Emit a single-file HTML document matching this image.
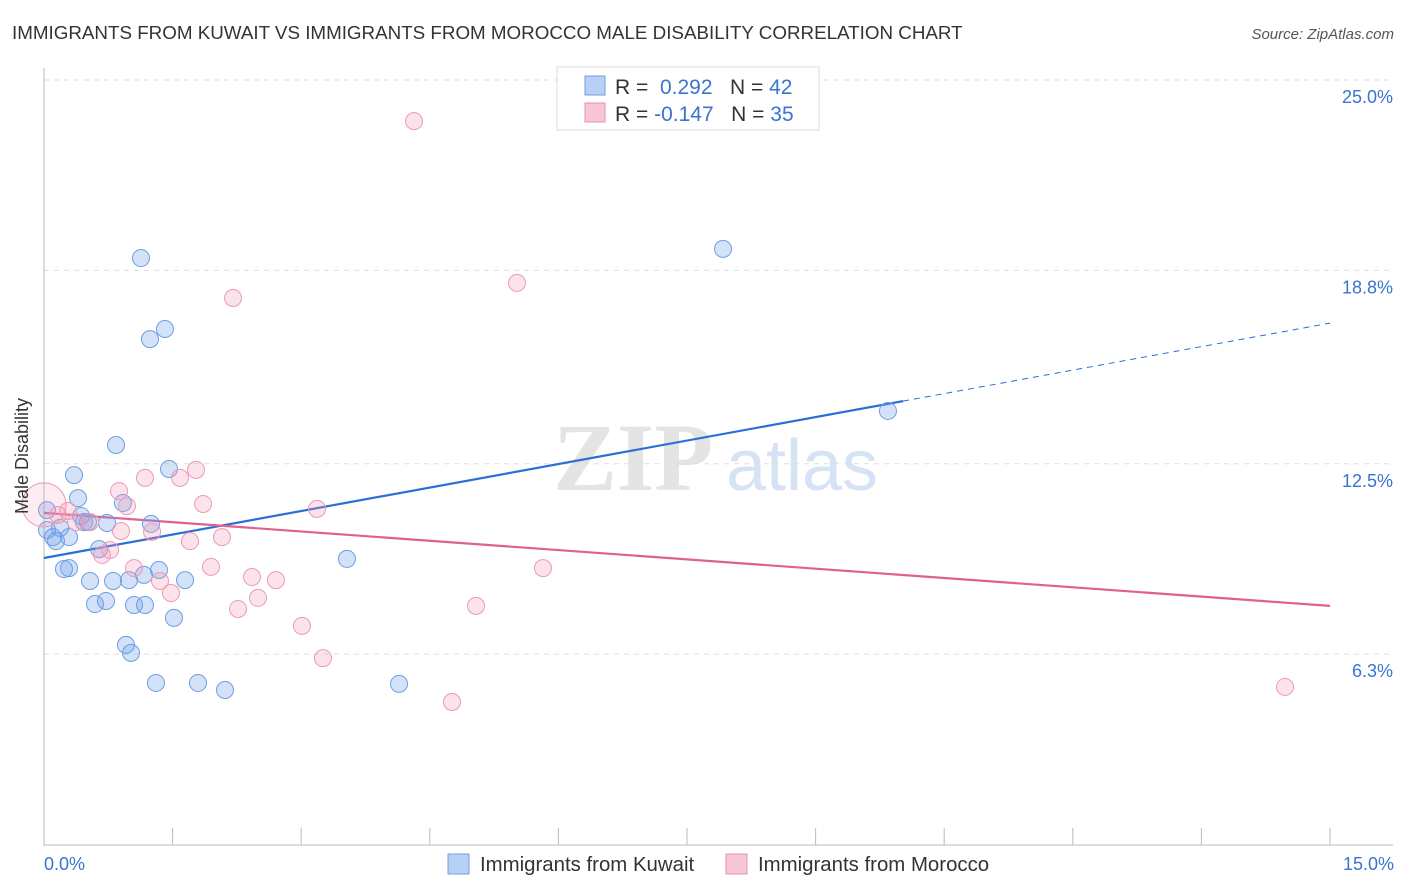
<!DOCTYPE html>
<html><head><meta charset="utf-8"><style>
body{margin:0;background:#fff;font-family:"Liberation Sans",sans-serif;}
svg{display:block}
</style></head><body>
<svg width="1406" height="892" id="chart">
<text x="12" y="39" font-size="18.8" fill="#333">IMMIGRANTS FROM KUWAIT VS IMMIGRANTS FROM MOROCCO MALE DISABILITY CORRELATION CHART</text>
<text x="1394" y="39" font-size="15" fill="#555" font-style="italic" text-anchor="end">Source: ZipAtlas.com</text>
<text x="633" y="490" font-size="96" fill="#e4e4e4" font-family="Liberation Serif,serif" font-weight="bold" text-anchor="middle">ZIP</text>
<text x="802" y="490" font-size="72" fill="#d6e3f5" text-anchor="middle">atlas</text>
<g id="grid"></g>
<g id="axes"></g>
<g id="lines"></g>
<g id="pts"></g>
<text x="28" y="456" font-size="18" fill="#333" text-anchor="middle" transform="rotate(-90 28 456)">Male Disability</text>
<text x="44" y="870" font-size="18" fill="#3b73d1">0.0%</text>
<text x="1394" y="870" font-size="18" fill="#3b73d1" text-anchor="end">15.0%</text>
<g>
<rect x="557" y="67" width="262" height="63" fill="#fff" stroke="#ddd"/>
<rect x="585" y="76" width="20" height="19" fill="#b8d0f5" stroke="#6f9fe0"/>
<rect x="585" y="103" width="20" height="19" fill="#f9c6d6" stroke="#e890b0"/>
<text x="615" y="94" font-size="21" fill="#333">R = <tspan fill="#3b73d1">&#160;0.292</tspan>&#160;&#160;&#160;N = <tspan fill="#3b73d1">42</tspan></text>
<text x="615" y="121" font-size="21" fill="#333">R = <tspan fill="#3b73d1">-0.147</tspan>&#160;&#160;&#160;N = <tspan fill="#3b73d1">35</tspan></text>
</g>
<g>
<rect x="448" y="854" width="21" height="20" fill="#b8d0f5" stroke="#6f9fe0"/>
<text x="480" y="871" font-size="20.4" fill="#333">Immigrants from Kuwait</text>
<rect x="726" y="854" width="21" height="20" fill="#f9c6d6" stroke="#e890b0"/>
<text x="758" y="871" font-size="20.4" fill="#333">Immigrants from Morocco</text>
</g>
</svg>
<script>
const yTicks=[25.0,18.8,12.5,6.3];
const yTickLabels=["25.0%","18.8%","12.5%","6.3%"];
const xTicks=[0,1.5,3,4.5,6,7.5,9,10.5,12,13.5,15];
const kuwaitX=[1.131,7.920,1.236,1.411,0.840,1.458,0.350,0.397,0.921,0.432,0.035,0.513,0.735,1.248,0.187,0.105,0.140,0.292,0.642,0.233,0.292,0.537,0.805,0.991,1.166,1.341,1.645,0.595,0.723,1.050,1.178,1.516,0.956,1.015,1.306,1.796,2.111,4.141,3.534,9.844,0.467,0.035];
const kuwaitY=[19.20,19.50,16.56,16.89,13.11,12.33,12.13,11.38,11.22,10.80,10.99,10.60,10.57,10.54,10.41,10.11,9.98,10.11,9.72,9.07,9.10,8.68,8.68,8.71,8.88,9.04,8.71,7.93,8.03,7.90,7.90,7.48,6.60,6.34,5.36,5.36,5.13,5.33,9.40,14.22,10.60,10.34];
const moroccoX=[4.316,5.517,2.205,1.773,1.178,1.586,0.875,0.968,1.855,3.184,0.280,0.163,0.537,0.898,1.260,0.373,1.703,2.076,0.770,0.677,1.050,1.948,2.426,2.706,1.353,1.481,2.496,2.263,3.009,3.254,5.820,5.039,4.759,14.475,0];
const moroccoY=[23.66,18.39,17.90,12.30,12.04,12.04,11.61,11.12,11.19,11.03,10.96,10.83,10.60,10.31,10.28,10.60,9.98,10.11,9.69,9.53,9.10,9.14,8.81,8.71,8.68,8.29,8.13,7.77,7.22,6.17,9.10,7.87,4.74,5.23,11.16];
const kuwaitTrend=[9.43,17.08];
const kuwaitSolidEnd=10.02;
const moroccoTrend=[10.90,7.87];
const NS="http://www.w3.org/2000/svg";
const X=v=>44+v/15*1286;
const Y=v=>80+(25-v)*30.7;
function mk(tag,attrs,parent){const e=document.createElementNS(NS,tag);for(const k in attrs)e.setAttribute(k,attrs[k]);document.getElementById(parent).appendChild(e);return e;}
yTicks.forEach((t,i)=>{
 const l=mk('line',{x1:44,x2:1393,y1:Y(t),y2:Y(t),stroke:'#ddd','stroke-dasharray':'5,5'},'grid');
 
 
 const tx=mk('text',{x:1393,y:Y(t)+23,'font-size':18,fill:'#3b73d1','text-anchor':'end'},'grid');
 tx.textContent=yTickLabels[i];
 
 
});
const ya=mk('line',{x1:44,x2:44,y1:68,y2:846,stroke:'#bbb'},'axes');


const xa=mk('line',{x1:44,x2:1393,y1:845,y2:845,stroke:'#bbb'},'axes');


xTicks.forEach(t=>{
 const l=mk('line',{x1:X(t),x2:X(t),y1:828,y2:845,stroke:'#bbb'},'axes');
 
 
});
const ts=(a,x)=>a[0]+(a[1]-a[0])*x/15;
let l1=mk('line',{x1:X(0),y1:Y(ts(kuwaitTrend,0)),x2:X(kuwaitSolidEnd),y2:Y(ts(kuwaitTrend,kuwaitSolidEnd)),stroke:'#2a6fd6','stroke-width':2.2},'lines');


let l2=mk('line',{x1:X(kuwaitSolidEnd),y1:Y(ts(kuwaitTrend,kuwaitSolidEnd)),x2:X(15),y2:Y(ts(kuwaitTrend,15)),stroke:'#2a6fd6','stroke-width':1,'stroke-dasharray':'6,5'},'lines');


let l3=mk('line',{x1:X(0),y1:Y(ts(moroccoTrend,0)),x2:X(15),y2:Y(ts(moroccoTrend,15)),stroke:'#e0608e','stroke-width':2.2},'lines');


kuwaitX.forEach((x,i)=>{
 const c=mk('circle',{cx:X(x),cy:Y(kuwaitY[i]),r:8.5,fill:'rgba(110,160,235,0.3)',stroke:'#6f9fe0','stroke-width':1},'pts');
 
 
});
moroccoX.forEach((x,i)=>{
 const big=i===moroccoX.length-1;
 const c=mk('circle',{cx:X(x),cy:Y(moroccoY[i]),r:big?22:8.5,fill:big?'rgba(245,150,180,0.18)':'rgba(245,150,180,0.28)',stroke:'#eb9ab8','stroke-width':1},'pts');
 
 
});
</script>
</body></html>
